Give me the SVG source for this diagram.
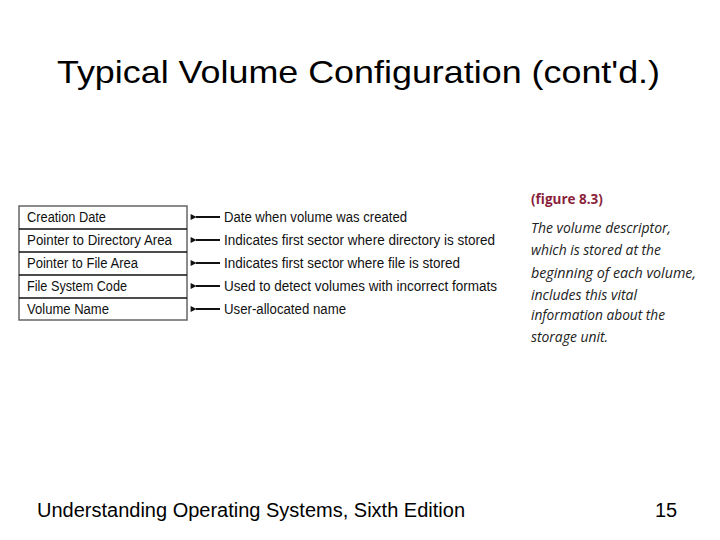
<svg xmlns="http://www.w3.org/2000/svg" width="720" height="540" viewBox="0 0 720 540">
<defs>
<marker id="ah" viewBox="0 0 10 10" refX="1" refY="5" markerWidth="8" markerHeight="6" orient="auto" markerUnits="userSpaceOnUse">
<path d="M10,0 L0,5 L10,10 z" fill="#111"/>
</marker>
</defs>
<style>
.title{font-family:"Liberation Sans",Arial,sans-serif;font-size:32px;fill:#000}
.foot{font-family:"Liberation Sans",Arial,sans-serif;font-size:20px;fill:#000}
.cell{font-family:"Liberation Sans",Arial,sans-serif;font-size:14px;fill:#111}
.lbl{font-family:"Liberation Sans",Arial,sans-serif;font-size:14px;fill:#111}
.fig{font-family:"Open Sans","Noto Sans",sans-serif;font-size:13.5px;font-weight:bold;fill:#8a1f3c}
.cap{font-family:"Open Sans","Noto Sans",sans-serif;font-size:14.5px;font-style:italic;fill:#222}
.conn{stroke:#111;stroke-width:2;fill:none}
</style>
<rect width="720" height="540" fill="#fff"/>
<text class="title" x="57" y="83" textLength="603" lengthAdjust="spacingAndGlyphs">Typical Volume Configuration (cont'd.)</text>

<g id="volume-descriptor">
<rect x="19" y="206" width="168" height="114" fill="#fff" stroke="#666" stroke-width="1.5"/>
<line x1="19" y1="229" x2="187" y2="229" stroke="#111" stroke-width="1.5"/>
<line x1="19" y1="252" x2="187" y2="252" stroke="#111" stroke-width="1.5"/>
<line x1="19" y1="275" x2="187" y2="275" stroke="#111" stroke-width="1.5"/>
<line x1="19" y1="298" x2="187" y2="298" stroke="#111" stroke-width="1.5"/>
</g>
<g id="creation-date"><text class="cell" x="27" y="222" textLength="79" lengthAdjust="spacingAndGlyphs">Creation Date</text></g>
<g id="pointer-dir"><text class="cell" x="27" y="245" textLength="145" lengthAdjust="spacingAndGlyphs">Pointer to Directory Area</text></g>
<g id="pointer-file"><text class="cell" x="27" y="268" textLength="111" lengthAdjust="spacingAndGlyphs">Pointer to File Area</text></g>
<g id="fs-code"><text class="cell" x="27" y="291" textLength="100" lengthAdjust="spacingAndGlyphs">File System Code</text></g>
<g id="volume-name"><text class="cell" x="27" y="314" textLength="82" lengthAdjust="spacingAndGlyphs">Volume Name</text></g>

<g id="connectors">
<line class="conn" x1="220" y1="217" x2="196" y2="217" marker-end="url(#ah)"/>
<line class="conn" x1="220" y1="240" x2="196" y2="240" marker-end="url(#ah)"/>
<line class="conn" x1="220" y1="263" x2="196" y2="263" marker-end="url(#ah)"/>
<line class="conn" x1="220" y1="286" x2="196" y2="286" marker-end="url(#ah)"/>
<line class="conn" x1="220" y1="309" x2="196" y2="309" marker-end="url(#ah)"/>
</g>

<g id="descriptions">
<text class="lbl" x="224" y="222" textLength="183" lengthAdjust="spacingAndGlyphs">Date when volume was created</text>
<text class="lbl" x="224" y="245" textLength="271" lengthAdjust="spacingAndGlyphs">Indicates first sector where directory is stored</text>
<text class="lbl" x="224" y="268" textLength="236" lengthAdjust="spacingAndGlyphs">Indicates first sector where file is stored</text>
<text class="lbl" x="224" y="291" textLength="273" lengthAdjust="spacingAndGlyphs">Used to detect volumes with incorrect formats</text>
<text class="lbl" x="224" y="314" textLength="122" lengthAdjust="spacingAndGlyphs">User-allocated name</text>
</g>

<g id="caption">
<text class="fig" x="531" y="204">(figure 8.3)</text>
<text class="cap" x="531" y="233" textLength="140" lengthAdjust="spacingAndGlyphs">The volume descriptor,</text>
<text class="cap" x="531" y="255" textLength="130" lengthAdjust="spacingAndGlyphs">which is stored at the</text>
<text class="cap" x="531" y="278" textLength="165" lengthAdjust="spacingAndGlyphs">beginning of each volume,</text>
<text class="cap" x="531" y="300" textLength="106" lengthAdjust="spacingAndGlyphs">includes this vital</text>
<text class="cap" x="531" y="320" textLength="134" lengthAdjust="spacingAndGlyphs">information about the</text>
<text class="cap" x="531" y="342" textLength="77" lengthAdjust="spacingAndGlyphs">storage unit.</text>
</g>

<text class="foot" x="37" y="517" textLength="428" lengthAdjust="spacingAndGlyphs">Understanding Operating Systems, Sixth Edition</text>
<text class="foot" x="655" y="517">15</text>
</svg>
